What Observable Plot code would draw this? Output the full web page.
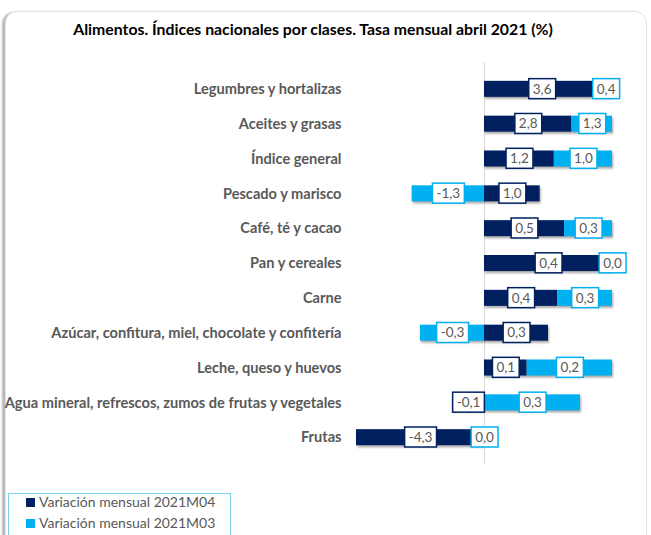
<!DOCTYPE html>
<html><head><meta charset="utf-8">
<script src="https://cdn.jsdelivr.net/npm/d3@7"></script>
<script src="https://cdn.jsdelivr.net/npm/@observablehq/plot@0.6"></script>
<style>
html,body{margin:0;padding:0;background:#fff;}
body{width:651px;height:535px;position:relative;overflow:hidden;font-family:Lato,"Open Sans",sans-serif;}
#frame{position:absolute;left:5px;top:11px;width:640px;height:600px;border:1px solid #e2e2e2;border-radius:12px;box-shadow:-3px 1px 2px rgba(0,0,0,0.28);background:#fff;}
#title{position:absolute;left:0;width:626px;top:19px;text-align:center;font-weight:bold;font-size:15.8px;color:#000;}
#chart{position:absolute;left:0;top:50px;}
#legend{position:absolute;left:8px;top:493px;width:221px;height:70px;border:1px solid #7fd3f5;background:#fff;}
.item{position:absolute;left:17px;font-size:14px;color:#595959;white-space:nowrap;}
.sw{display:inline-block;width:9px;height:9px;margin-right:4px;vertical-align:0px;}
</style>
</head><body>
<div id="frame"></div>
<div id="title">Alimentos. Índices nacionales por clases. Tasa mensual abril 2021 (%)</div>
<div id="chart"></div>
<div id="legend"></div>
<script>
const categories = [
  "Legumbres y hortalizas",
  "Aceites y grasas",
  "Índice general",
  "Pescado y marisco",
  "Café, té y cacao",
  "Pan y cereales",
  "Carne",
  "Azúcar, confitura, miel, chocolate y confitería",
  "Leche, queso y huevos",
  "Agua mineral, refrescos, zumos de frutas y vegetales",
  "Frutas"
];
const seriesNames = ["Variación mensual 2021M04", "Variación mensual 2021M03"];
const m04 = [3.6, 2.8, 1.2, 1.0, 0.5, 0.4, 0.4, 0.3, 0.1, -0.1, -4.3];
const m03 = [0.4, 1.3, 1.0, -1.3, 0.3, 0.0, 0.3, -0.3, 0.2, 0.3, 0.0];
const colors = ["#002060", "#00B0F0"];

// 100% stacked: each share = value / (|M04| + |M03|)
const rows = [];
[m04, m03].forEach((vals, s) => {
  vals.forEach((v, i) => {
    const total = Math.abs(m04[i]) + Math.abs(m03[i]);
    rows.push({cat: categories[i], serie: seriesNames[s], s, value: v, share: total ? v / total : 0});
  });
});
const fmt = v => v.toFixed(1).replace(".", ",");

const plot = Plot.plot({
  width: 651,
  height: 424,
  marginLeft: 356,
  marginRight: 39,
  marginTop: 12,
  marginBottom: 10,
  style: {fontFamily: "Lato, 'Open Sans', sans-serif", fontSize: "14.6px", color: "#595959", fontWeight: "bold", background: "transparent"},
  x: {domain: [-1, 1], axis: null},
  y: {domain: categories, label: null, tickSize: 0, tickPadding: 15, padding: 0.54, round: false},
  color: {domain: seriesNames, range: colors},
  marks: [
    Plot.ruleX([0], {stroke: "#d9d9d9", strokeWidth: 1}),
    Plot.barX(rows, Plot.stackX({y: "cat", x: "share", fill: "serie"})),
    Plot.text(rows, Plot.stackX({y: "cat", x: "share", text: d => fmt(d.value), fill: "#595959", fontWeight: "normal", fontSize: 13.5}))
  ]
});
document.getElementById("chart").appendChild(plot);

// bar shadow
d3.select(plot).selectAll("g[aria-label='bar']").style("filter", "drop-shadow(1px 2px 1px rgba(0,0,0,0.35))");

// label boxes behind texts (rows are in order: all M04, then all M03)
const tg = plot.querySelector("g[aria-label='text']");
const texts = Array.from(tg.querySelectorAll("text"));
const boxed = texts.map((t, k) => {
  const b = t.getBBox();
  const w = b.width + 8, h = 20;
  const g = document.createElementNS("http://www.w3.org/2000/svg", "g");
  if (t.getAttribute("transform")) g.setAttribute("transform", t.getAttribute("transform"));
  const r = document.createElementNS("http://www.w3.org/2000/svg", "rect");
  r.setAttribute("x", b.x + b.width / 2 - w / 2);
  r.setAttribute("y", b.y + b.height / 2 - h / 2);
  r.setAttribute("width", w);
  r.setAttribute("height", h);
  r.setAttribute("fill", "#fff");
  r.setAttribute("stroke", colors[rows[k].s]);
  r.setAttribute("stroke-width", 1.5);
  return {t, r, g};
});
boxed.forEach(({t, r, g}) => {
  t.parentNode.insertBefore(g, t);
  g.appendChild(r);
  t.removeAttribute("transform");
  g.appendChild(t);
});

// legend
const leg = document.getElementById("legend");
seriesNames.forEach((n, i) => {
  const d = document.createElement("div");
  d.className = "item";
  d.style.top = (i === 0 ? -1 : 20) + "px";
  d.innerHTML = `<span class="sw" style="background:${colors[i]}"></span>${n}`;
  leg.appendChild(d);
});
</script>
</body></html>
